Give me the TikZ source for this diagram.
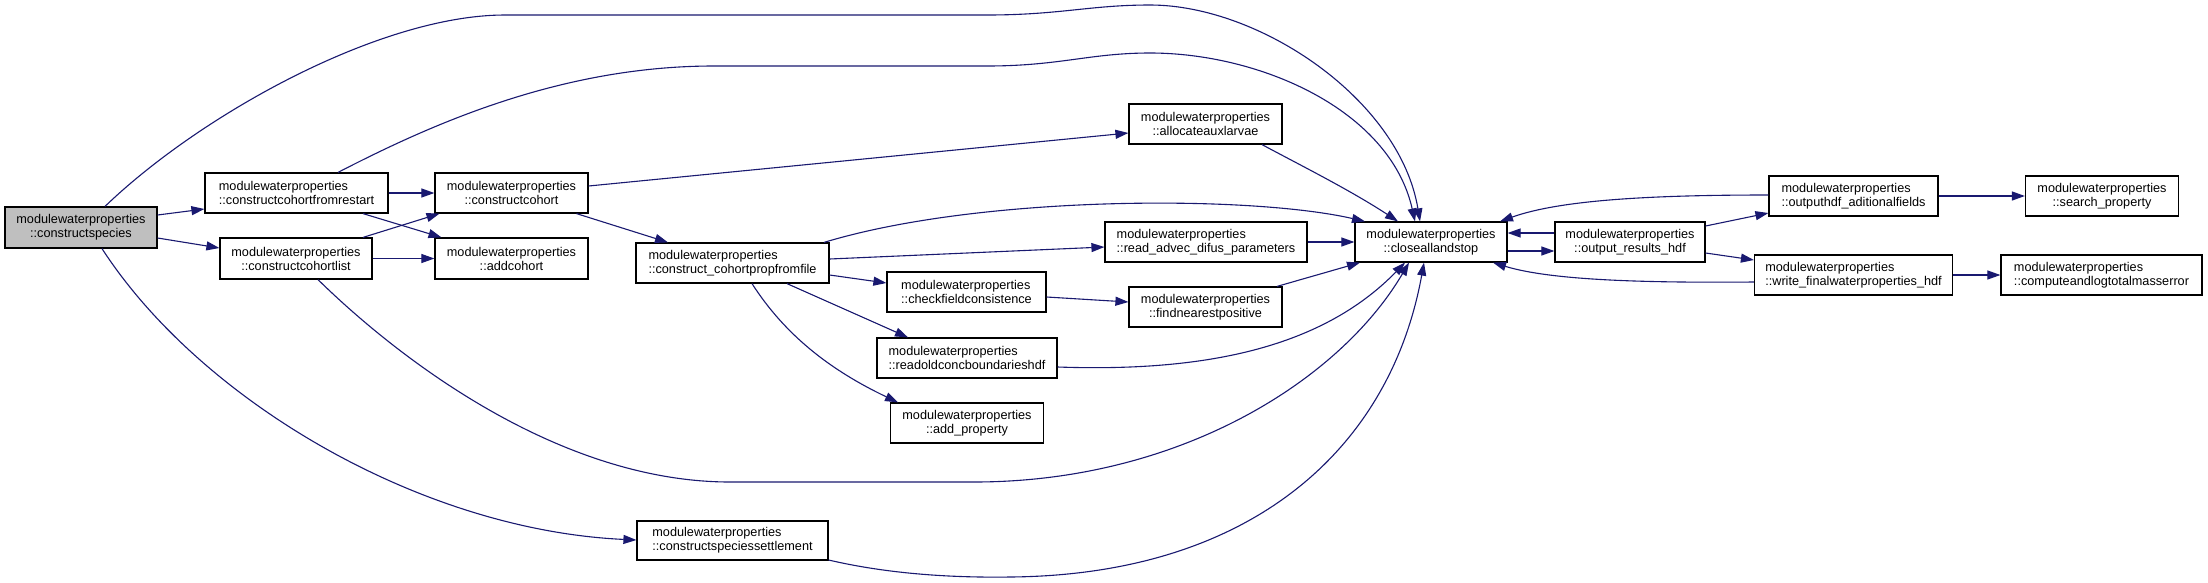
\documentclass[tikz,border=0pt]{standalone}
\usepackage{fontspec}
\setmainfont{Liberation Sans}
\usetikzlibrary{arrows.meta}
\definecolor{edgecol}{RGB}{25,25,112}
\definecolor{boxgray}{RGB}{191,191,191}
\begin{document}
\begin{tikzpicture}[x=1pt,y=-1pt,
  fn/.style={draw=black, line width=1.2pt, fill=white, rectangle, inner sep=0pt,
    minimum height=40pt, font=\fontsize{12.7}{14}\selectfont, align=center},
  fnl/.style={fn, align=left},
  edge/.style={draw=edgecol, line width=1.1pt, -{Triangle[length=13pt,width=9pt]}},
]
\fill[white] (0,0) rectangle (2208,582);
\useasboundingbox (0,0) rectangle (2208,582);

% nodes
\node[fn, fill=boxgray, minimum width=152pt, minimum height=41pt] (cs) at (81,227.5) {modulewaterproperties\\::constructspecies};
\node[fnl, minimum width=183pt] (cfr) at (296.5,193) {modulewaterproperties\\::constructcohortfromrestart};
\node[fn, minimum width=153pt] (cc) at (511.5,193) {modulewaterproperties\\::constructcohort};
\node[fn, minimum width=152pt, minimum height=41pt] (ccl) at (296,258.5) {modulewaterproperties\\::constructcohortlist};
\node[fn, minimum width=153pt, minimum height=41pt] (ac) at (511.5,258.5) {modulewaterproperties\\::addcohort};
\node[fn, minimum width=153pt] (al) at (1205.5,124) {modulewaterproperties\\::allocateauxlarvae};
\node[fnl, minimum width=193pt] (cpf) at (732.5,263) {modulewaterproperties\\::construct\_cohortpropfromfile};
\node[fnl, minimum width=202pt] (rad) at (1206,242) {modulewaterproperties\\::read\_advec\_difus\_parameters};
\node[fnl, minimum width=159pt] (cfc) at (966.5,292) {modulewaterproperties\\::checkfieldconsistence};
\node[fn, minimum width=153pt] (fnp) at (1205.5,307) {modulewaterproperties\\::findnearestpositive};
\node[fnl, minimum width=180pt] (roc) at (967,358) {modulewaterproperties\\::readoldconcboundarieshdf};
\node[fn, minimum width=153pt] (ap) at (967,423) {modulewaterproperties\\::add\_property};
\node[fnl, minimum width=191pt, minimum height=39pt] (css) at (732.5,540.5) {modulewaterproperties\\::constructspeciessettlement};
\node[fn, minimum width=152pt] (cas) at (1431,242) {modulewaterproperties\\::closeallandstop};
\node[fn, minimum width=150pt] (orh) at (1630,242) {modulewaterproperties\\::output\_results\_hdf};
\node[fnl, minimum width=169pt] (oaf) at (1853.5,196) {modulewaterproperties\\::outputhdf\_aditionalfields};
\node[fn, minimum width=153pt] (sp) at (2102,196) {modulewaterproperties\\::search\_property};
\node[fnl, minimum width=198pt] (wf) at (1853.5,275) {modulewaterproperties\\::write\_finalwaterproperties\_hdf};
\node[fnl, minimum width=201pt] (cl) at (2101.5,275) {modulewaterproperties\\::computeandlogtotalmasserror};

% edges
\draw[edge] (cs.east |- 0,215) -- (cfr.west |- 0,209);
\draw[edge] (cs.east |- 0,238) -- (ccl.west |- 0,248);
\draw[edge] (cs.north -| 105,0) .. controls (200,115) and (380,15) .. (505,15) -- (987,15) .. controls (1060,15) and (1090,5) .. (1150,5) .. controls (1260,5) and (1400,100) .. (cas.north -| 1420,0);
\draw[edge] (cs.south -| 102,0) .. controls (200,400) and (420,530) .. (css.west |- 0,540);
\draw[edge] (cfr.east) -- (cc.west);
\draw[edge] (cfr.south -| 363,0) -- (ac.north -| 441.5,0);
\draw[edge] (cfr.north -| 338,0) .. controls (430,125) and (560,66) .. (714,66) -- (987,66) .. controls (1060,66) and (1090,53) .. (1150,53) .. controls (1260,53) and (1390,110) .. (cas.north -| 1415,0);
\draw[edge] (ccl.north -| 363,0) -- (cc.south -| 439.5,0);
\draw[edge] (ccl.east) -- (ac.west);
\draw[edge] (ccl.south -| 318,0) .. controls (400,360) and (560,482) .. (730,482) -- (974,482) .. controls (1180,482) and (1340,380) .. (cas.south -| 1409,0);
\draw[edge] (cc.east |- 0,186) -- (al.west |- 0,133);
\draw[edge] (cc.south -| 576.5,0) -- (cpf.north -| 668,0);
\draw[edge] (al.south -| 1262,0) .. controls (1300,165) and (1350,190) .. (cas.north -| 1398,0);
\draw[edge] (cpf.north -| 824,0) .. controls (980,195) and (1250,195) .. (cas.north -| 1365,0);
\draw[edge] (cpf.east |- 0,259) -- (rad.west |- 0,247);
\draw[edge] (cpf.east |- 0,275) -- (cfc.west |- 0,283);
\draw[edge] (cpf.south -| 787,0) -- (roc.north -| 908,0);
\draw[edge] (cpf.south -| 752,0) .. controls (785,335) and (830,370) .. (ap.north -| 898,0);
\draw[edge] (rad.east) -- (cas.west);
\draw[edge] (cfc.east |- 0,297) -- (fnp.west |- 0,302);
\draw[edge] (fnp.north -| 1277,0) -- (cas.south -| 1360,0);
\draw[edge] (roc.east |- 0,367) .. controls (1200,372) and (1320,350) .. (cas.south -| 1405,0);
\draw[edge] (css.east |- 0,560) .. controls (880,572) and (940,578) .. (1010,577) .. controls (1250,575) and (1390,450) .. (cas.south -| 1424,0);
\draw[edge] (cas.east |- 0,251) -- (orh.west |- 0,251);
\draw[edge] (orh.west |- 0,233) -- (cas.east |- 0,233);
\draw[edge] (orh.east |- 0,226) -- (oaf.west |- 0,213);
\draw[edge] (orh.east |- 0,253) -- (wf.west |- 0,260);
\draw[edge] (oaf.west |- 0,195) .. controls (1650,195) and (1560,200) .. (cas.north -| 1500,0);
\draw[edge] (wf.west |- 0,282) .. controls (1640,283) and (1550,280) .. (cas.south -| 1493,0);
\draw[edge] (oaf.east) -- (sp.west);
\draw[edge] (wf.east) -- (cl.west);
\end{tikzpicture}
\end{document}
